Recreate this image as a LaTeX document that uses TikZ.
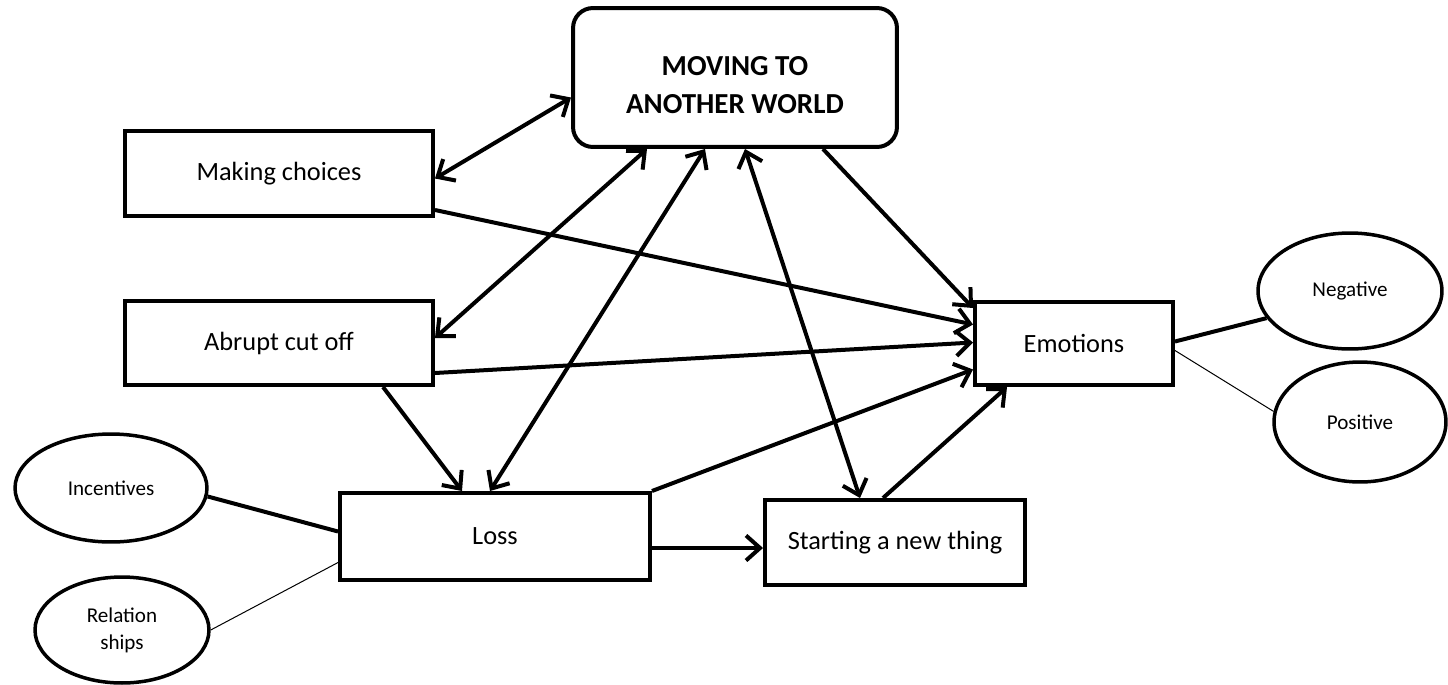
\documentclass[tikz,border=0pt]{standalone}
\usepackage{fontspec}
\setmainfont{Carlito}
\usetikzlibrary{arrows.meta, calc, shapes.geometric}
\tikzset{
  box/.style={draw, line width=0.08cm, inner sep=0pt, align=center, font=\fontsize{15}{18}\selectfont},
  topbox/.style={box, rounded corners=0.4cm, font=\fontsize{16.5}{20.5}\selectfont\bfseries},
  oval/.style={draw, ellipse, line width=0.07cm, inner sep=0pt, align=center, font=\fontsize{12}{15.4}\selectfont},
  arr/.style={line width=0.08cm, ->},
  biarr/.style={line width=0.08cm, <->},
  tie/.style={line width=0.08cm},
  thintie/.style={line width=0.02cm},
  >={Straight Barb[length=0.28cm,width=0.5cm]}
}

\begin{document}
\begin{tikzpicture}[x=0.02cm, y=-0.02cm]
  \useasboundingbox (0,0) rectangle (1448,684);

  % boxes
  \node[topbox, minimum width=6.48cm, minimum height=2.78cm] (world) at (735,77.5)
    {\raisebox{-0.2cm}[\height][\depth]{\begin{tabular}{@{}c@{}}MOVING TO\\[1pt]ANOTHER WORLD\end{tabular}}};
  \node[box, minimum width=6.16cm, minimum height=1.7cm] (choices) at (279,173.5) {Making choices};
  \node[box, minimum width=6.16cm, minimum height=1.68cm] (cutoff) at (279,343) {Abrupt cut off};
  \node[box, minimum width=3.96cm, minimum height=1.66cm] (emotions) at (1074,343.5) {Emotions};
  \node[box, minimum width=6.2cm, minimum height=1.74cm] (loss) at (495,536.5) {Loss};
  \node[box, minimum width=5.2cm, minimum height=1.7cm] (newthing) at (895,542.5) {Starting a new thing};

  % ovals
  \node[oval, minimum width=3.68cm, minimum height=2.32cm] (negative) at (1350,291) {Negative};
  \node[oval, minimum width=3.44cm, minimum height=2.4cm] (positive) at (1360,422) {Positive};
  \node[oval, minimum width=3.84cm, minimum height=2.16cm] (incentives) at (111,488) {Incentives};
  \node[oval, minimum width=3.48cm, minimum height=2.12cm] (relation) at (122,630) {Relation\\ships};

  % arrows
  \draw[biarr] ($(choices.east)+(0,5)$) -- ($(world.west)+(0,20)$);
  \draw[arr] ($(choices.south east)+(0,-8)$) -- ($(emotions.west)+(0,-19)$);
  \draw[biarr] ($(cutoff.east)+(0,-5)$) -- ($(world.south)+(-88,0)$);
  \draw[arr] ($(cutoff.east)+(0,30)$) -- ($(emotions.west)+(0,-1)$);
  \draw[arr] ($(cutoff.south)+(104,0)$) -- ($(loss.north)+(-33,0)$);
  \draw[biarr] ($(loss.north)+(-5,0)$) -- ($(world.south)+(-30,0)$);
  \draw[biarr] ($(world.south)+(10,0)$) -- ($(newthing.north)+(-35,0)$);
  \draw[arr] ($(world.south)+(88,0)$) -- ($(emotions.north west)+(0,8)$);
  \draw[arr] (loss.north east) -- ($(emotions.west)+(0,26)$);
  \draw[arr] ($(newthing.north)+(-12,0)$) -- ($(emotions.south)+(-67,0)$);
  \draw[arr] ($(loss.east)+(0,11.5)$) -- ($(newthing.west)+(0,5.5)$);

  % plain links
  \draw[tie] ($(emotions.east)+(0,-2)$) -- (negative.198);
  \draw[thintie] ($(emotions.east)+(0,7)$) -- (positive.173);
  \draw[tie] (incentives.-5) -- ($(loss.west)+(0,-5)$);
  \draw[thintie] (relation.0) -- ($(loss.west)+(0,26)$);
\end{tikzpicture}
\end{document}
